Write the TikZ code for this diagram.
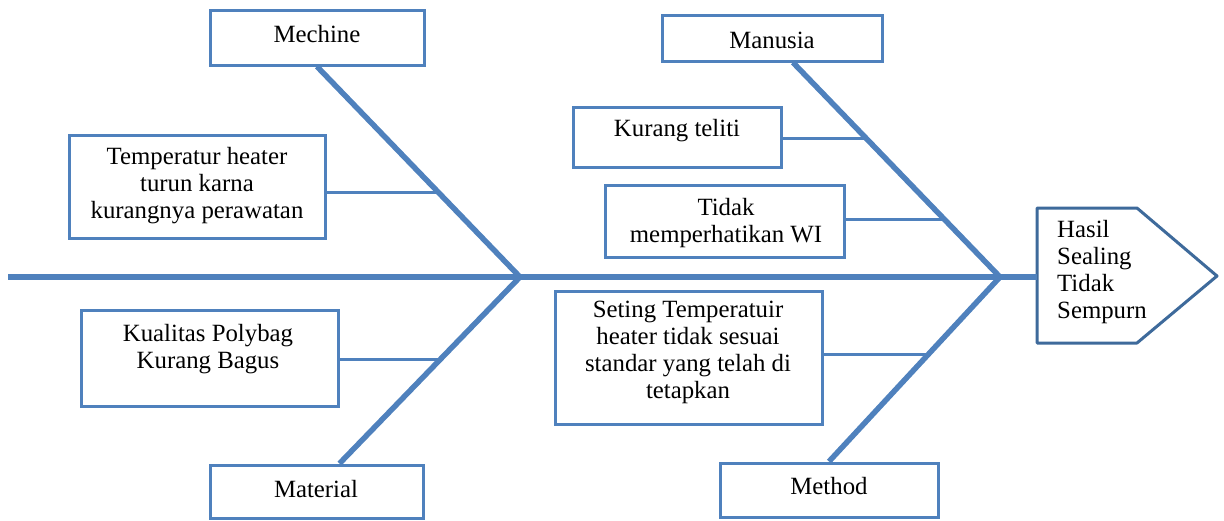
\documentclass[tikz,border=0pt]{standalone}
\usepackage{fontspec}
\setmainfont{Liberation Serif}
\usetikzlibrary{calc}
\definecolor{fb}{HTML}{4F81BD}
\definecolor{hb}{HTML}{3E6A9B}
\begin{document}
\begin{tikzpicture}[x=1pt,y=-1pt,
  box/.style={draw=fb,line width=3pt,fill=white,inner sep=0pt},
  txt/.style={font=\fontsize{24.8}{27}\selectfont,align=center,inner sep=0pt},
  bone/.style={draw=fb,line width=5.5pt},
  twig/.style={draw=fb,line width=3pt}]
\useasboundingbox (0,0) rectangle (1224,520);
% boxes
\node[box,minimum width=214pt,minimum height=55pt] (mech) at (317,37.5) {};
\node[box,minimum width=256pt,minimum height=103pt] (temp) at (197,186.5) {};
\node[box,minimum width=220pt,minimum height=46pt] (man) at (772,38) {};
\node[box,minimum width=208pt,minimum height=60pt] (kur) at (677,137) {};
\node[box,minimum width=239pt,minimum height=72pt] (tid) at (724.5,221) {};
\node[box,minimum width=257pt,minimum height=96pt] (kua) at (209.5,358) {};
\node[box,minimum width=267pt,minimum height=133pt] (set) at (688.5,357.5) {};
\node[box,minimum width=213pt,minimum height=53pt] (mat) at (316.5,491.5) {};
\node[box,minimum width=218pt,minimum height=54pt] (met) at (829,490) {};
% texts
\node[txt] at (317,34) {Mechine};
\node[txt] at (197,186) {Temperatur heater\\turun karna\\kurangnya perawatan};
\node[txt] at (772,40) {Manusia};
\node[txt] at (677,131) {Kurang teliti};
\node[txt] at (726,223) {Tidak\\memperhatikan WI};
\node[txt] at (208,349) {Kualitas Polybag\\Kurang Bagus};
\node[txt] at (688,352) {Seting Temperatuir\\heater tidak sesuai\\standar yang telah di\\tetapkan};
\node[txt] at (316,489) {Material};
\node[txt] at (829,486) {Method};
% head
\coordinate (hw) at (1037,277);
\draw[draw=hb,line width=3pt,line join=round,fill=white] (1037,208) -- (1137,208) -- (1217,276) -- (1137,343) -- (1037,343) -- cycle;
\node[txt,align=left,anchor=west] (head) at (1057,272) {Hasil\\Sealing\\Tidak\\Sempurn};
% spine and bones
\coordinate (s0) at (8,277);
\coordinate (j1) at (520,277);
\coordinate (j2) at (1000,277);
\draw[bone] (s0) -- (hw);
\draw[bone] (mech.south) -- (j1);
\draw[bone] ([xshift=23pt]mat.north) -- (j1);
\draw[bone] ([xshift=21pt]man.south) -- (j2);
\draw[bone] (met.north) -- (j2);
% twigs
\coordinate (p1) at ($(mech.south)!0.60!(j1)$);
\draw[twig] (p1 -| temp.east) -- (p1);
\coordinate (p2) at ($([xshift=21pt]man.south)!0.355!(j2)$);
\draw[twig] (p2 -| kur.east) -- (p2);
\coordinate (p3) at ($([xshift=21pt]man.south)!0.73!(j2)$);
\draw[twig] (p3 -| tid.east) -- (p3);
\coordinate (p4) at ($([xshift=23pt]mat.north)!0.56!(j1)$);
\draw[twig] (p4 -| kua.east) -- (p4);
\coordinate (p5) at ($(met.north)!0.58!(j2)$);
\draw[twig] (p5 -| set.east) -- (p5);
\end{tikzpicture}
\end{document}
